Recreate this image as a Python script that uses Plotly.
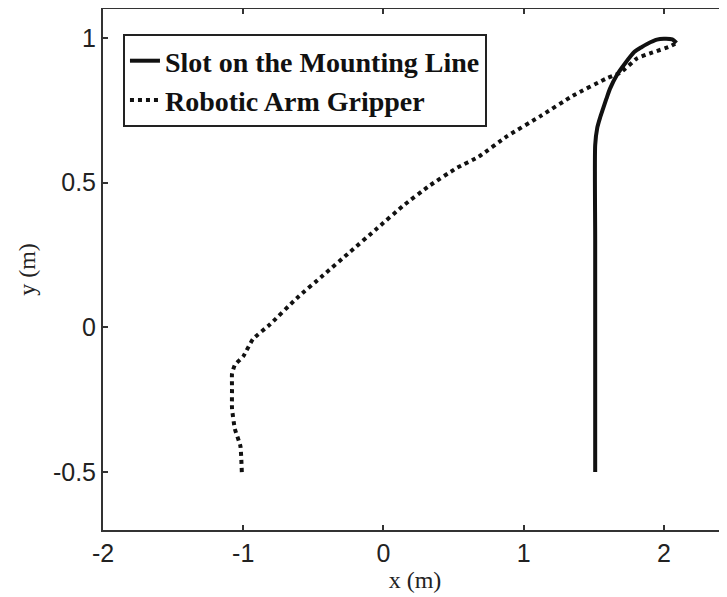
import plotly.graph_objects as go

# Slot on the Mounting Line (solid)
slot_x = [1.51, 1.51, 1.51, 1.525, 1.545, 1.565, 1.59, 1.615, 1.665, 1.72, 1.79, 1.84, 1.88, 1.95, 2.00, 2.06, 2.09]
slot_y = [-0.50, 0.30, 0.63, 0.69, 0.725, 0.754, 0.79, 0.824, 0.872, 0.91, 0.952, 0.968, 0.979, 0.994, 0.997, 0.995, 0.983]

# Robotic Arm Gripper (dotted)
grip_x = [-1.01, -1.02, -1.06, -1.08, -1.08, -1.08, -1.06, -1.00, -0.93, -0.81, -0.62, -0.43,
          -0.24, -0.05, 0.14, 0.33, 0.52, 0.68, 0.88, 1.12, 1.35, 1.59, 1.69, 1.81, 1.92, 2.04, 2.08]
grip_y = [-0.50, -0.41, -0.35, -0.28, -0.21, -0.16, -0.13, -0.10, -0.04, 0.01, 0.10, 0.18,
          0.26, 0.34, 0.42, 0.49, 0.55, 0.59, 0.66, 0.73, 0.80, 0.86, 0.88, 0.93, 0.95, 0.97, 0.98]

x_ticks = [-2, -1, 0, 1, 2]
y_ticks = [-0.5, 0, 0.5, 1]
x_range = [-2, 2.45]
y_range = [-0.7, 1.1]

fig = go.Figure()
fig.add_trace(go.Scatter(x=slot_x, y=slot_y, mode="lines", name="Slot on the Mounting Line",
                         line=dict(color="#111111", width=4, shape="spline", smoothing=0.6)))
fig.add_trace(go.Scatter(x=grip_x, y=grip_y, mode="lines", name="Robotic Arm Gripper",
                         line=dict(color="#111111", width=4, dash="4px,4px", shape="spline", smoothing=0.4)))

axis_common = dict(showgrid=False, zeroline=False, showline=True, linecolor="#333333", linewidth=2,
                   ticks="inside", ticklen=5, tickwidth=2, tickcolor="#333333",
                   tickfont=dict(family="Liberation Sans", size=25, color="#222222"))

fig.update_xaxes(range=x_range, tickvals=x_ticks, ticktext=[str(v) for v in x_ticks],
                 mirror="ticks",
                 title=dict(text="x (m)", font=dict(family="Liberation Serif", size=24, color="#222222"),
                            standoff=4),
                 **axis_common)
fig.update_yaxes(range=y_range, tickvals=y_ticks, ticktext=["-0.5", "0", "0.5", "1"],
                 mirror=False,
                 title=dict(text="y (m)", font=dict(family="Liberation Serif", size=24, color="#222222"),
                            standoff=11),
                 **axis_common)

fig.update_layout(
    width=719, height=589,
    margin=dict(l=95, r=0, t=1, b=67),
    paper_bgcolor="white", plot_bgcolor="white",
    showlegend=True,
    legend=dict(x=0.032, y=0.952, xanchor="left", yanchor="top",
                bgcolor="white", bordercolor="#222222", borderwidth=2,
                font=dict(family="Liberation Serif", size=28, color="#111111", weight="bold"),
                itemwidth=30, tracegroupgap=0),
)

fig.write_html("out.html")
